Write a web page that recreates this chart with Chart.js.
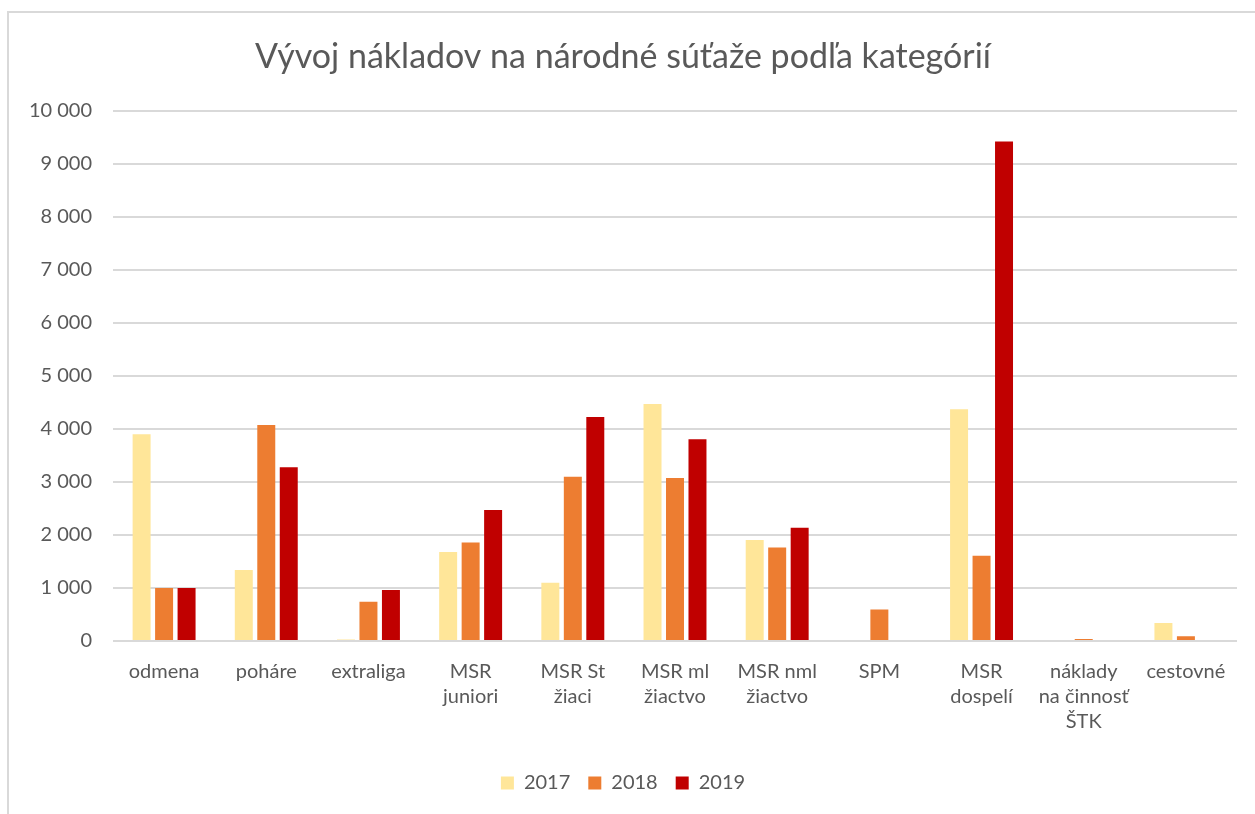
<!DOCTYPE html>
<html lang="sk">
<head>
<meta charset="utf-8">
<title>Vývoj nákladov</title>
<script src="https://cdn.jsdelivr.net/npm/chart.js@4.4.1/dist/chart.umd.min.js"></script>
<style>
    html, body { margin: 0; padding: 0; background: #fff; overflow: hidden; }
    #frame {
        position: absolute;
        left: 7px;
        top: 11px;
        width: 1266px;
        height: 801px;
        border-left: 2px solid #d9d9d9;
        border-top: 2px solid #d9d9d9;
    }
</style>
</head>
<body>
<div id="frame"><canvas id="nakladyChart"></canvas></div>
<script>
    const categories = [
        "odmena", "poháre", "extraliga", ["MSR", "juniori"], ["MSR St", "žiaci"],
        ["MSR ml", "žiactvo"], ["MSR nml", "žiactvo"], "SPM", ["MSR", "dospelí"],
        ["náklady", "na činnosť", "ŠTK"], "cestovné"
    ];
    const values2017 = [3900, 1340, 30, 1680, 1100, 4470, 1905, null, 4370, null, 340];
    const values2018 = [1000, 4075, 740, 1860, 3100, 3075, 1765, 595, 1610, 40, 90];
    const values2019 = [1000, 3275, 960, 2470, 4225, 3805, 2135, null, 9420, null, null];
    const seriesLabels = ["2017", "2018", "2019"];
    const yTicks = [0, 1000, 2000, 3000, 4000, 5000, 6000, 7000, 8000, 9000, 10000];

    const textColor = "#595959";
    const gridColor = "#d9d9d9";

    function formatThousands(v) {
        return String(v).replace(/\B(?=(\d{3})+(?!\d))/g, " ");
    }

    document.addEventListener("DOMContentLoaded", function () {
        const ctx = document.getElementById("nakladyChart").getContext("2d");

        window.nakladyChart = new Chart(ctx, {
            type: "bar",
            data: {
                labels: categories,
                datasets: [
                    { label: seriesLabels[0], data: values2017, backgroundColor: "#FFE699" },
                    { label: seriesLabels[1], data: values2018, backgroundColor: "#ED7D31" },
                    { label: seriesLabels[2], data: values2019, backgroundColor: "#C00000" }
                ].map(d => Object.assign(d, {
                    borderWidth: 0,
                    categoryPercentage: 0.66,
                    barPercentage: 0.8
                }))
            },
            options: {
                responsive: true,
                maintainAspectRatio: false,
                animation: false,
                layout: { padding: { left: 0, right: 38, top: 0, bottom: 11 } },
                scales: {
                    x: {
                        grid: { display: false },
                        border: { display: false },
                        ticks: {
                            color: textColor,
                            font: { family: "Lato", size: 20, lineHeight: 1.25 },
                            padding: 10,
                            maxRotation: 0,
                            autoSkip: false
                        },
                        afterFit: (s) => { s.height = 114; }
                    },
                    y: {
                        min: 0,
                        max: yTicks[yTicks.length - 1],
                        border: { display: false },
                        grid: { color: gridColor, lineWidth: 2, drawTicks: false },
                        afterBuildTicks: (s) => { s.ticks = yTicks.map(v => ({ value: v })); },
                        ticks: {
                            color: textColor,
                            font: { family: "Lato", size: 20 },
                            padding: 21,
                            callback: (v) => formatThousands(v)
                        },
                        afterFit: (s) => { s.width = 104; }
                    }
                },
                plugins: {
                    title: {
                        display: true,
                        text: "Vývoj nákladov na národné súťaže podľa kategórií",
                        color: textColor,
                        font: { family: "Lato", size: 34, weight: "normal" },
                        padding: { top: 24, bottom: 33 }
                    },
                    legend: {
                        position: "bottom",
                        labels: {
                            color: textColor,
                            font: { family: "Lato", size: 20 },
                            boxWidth: 13,
                            boxHeight: 13,
                            padding: 18
                        }
                    },
                    tooltip: { enabled: false }
                }
            }
        });
    });
</script>
</body>
</html>
